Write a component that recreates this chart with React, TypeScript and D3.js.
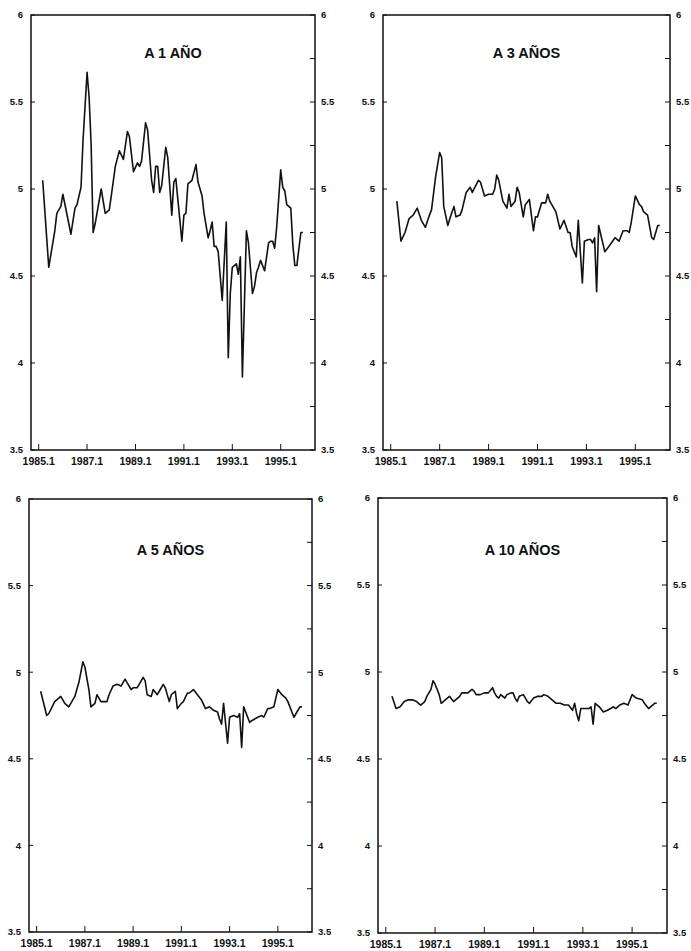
import React from "react"
import * as d3 from "d3"

// months counted from 1985.1 (0 = January 1985)
const xTickMonths = [0, 24, 48, 72, 96, 120]
const xTickLabels = ["1985.1", "1987.1", "1989.1", "1991.1", "1993.1", "1995.1"]
const yTicks = [3.5, 4, 4.5, 5, 5.5, 6]
const yTickLabels = ["3.5", "4", "4.5", "5", "5.5", "6"]
const yMinorTicks = [3.75, 4.25, 4.75, 5.25, 5.75]

const titles = ["A 1 AÑO", "A 3 AÑOS", "A 5 AÑOS", "A 10 AÑOS"]

const anio1: [number, number][] = [
  [2, 5.05], [5, 4.55], [8, 4.76], [9, 4.86], [11, 4.9], [12, 4.97], [16, 4.74], [18, 4.89],
  [19, 4.91], [21, 5.01], [22, 5.28], [24, 5.67], [25, 5.53], [26, 5.26], [27, 4.75], [28, 4.8],
  [31, 5.0], [33, 4.86], [34, 4.87], [35, 4.88], [36, 4.96], [38, 5.13], [40, 5.22], [42, 5.17],
  [44, 5.33], [45, 5.3], [47, 5.1], [49, 5.15], [50, 5.13], [51, 5.16], [53, 5.38], [54, 5.34],
  [56, 5.05], [57, 4.98], [58, 5.13], [59, 5.13], [60, 4.98], [61, 5.02], [63, 5.24], [64, 5.18],
  [66, 4.85], [67, 5.04], [68, 5.06], [71, 4.7], [72, 4.85], [73, 4.86], [74, 5.03], [76, 5.05],
  [78, 5.14], [79, 5.04], [81, 4.96], [82, 4.86], [84, 4.72], [85, 4.76], [86, 4.81], [87, 4.67],
  [88, 4.67], [89, 4.64], [90, 4.5], [91, 4.36], [93, 4.81], [94, 4.03], [95, 4.4], [96, 4.55],
  [97, 4.56], [98, 4.57], [99, 4.51], [100, 4.61], [101, 3.92], [103, 4.76], [104, 4.69], [106, 4.4],
  [107, 4.44], [108, 4.52], [109, 4.55], [110, 4.59], [112, 4.53], [114, 4.69], [115, 4.7], [116, 4.7],
  [117, 4.66], [118, 4.78], [120, 5.11], [121, 5.01], [122, 4.99], [123, 4.91], [125, 4.89], [126, 4.68],
  [127, 4.56], [128, 4.56], [130, 4.75], [131, 4.75],
]

const anio3: [number, number][] = [
  [3, 4.93], [5, 4.7], [7, 4.75], [9, 4.83], [11, 4.85], [13, 4.89], [15, 4.82], [17, 4.78],
  [19, 4.85], [20, 4.88], [22, 5.07], [24, 5.21], [25, 5.18], [26, 4.9], [28, 4.79], [29, 4.83],
  [31, 4.9], [32, 4.84], [34, 4.85], [35, 4.88], [37, 4.98], [39, 5.01], [40, 4.98], [43, 5.05],
  [44, 5.04], [46, 4.96], [48, 4.97], [50, 4.97], [51, 5.0], [52, 5.08], [53, 5.05], [55, 4.93],
  [57, 4.89], [58, 4.97], [59, 4.9], [61, 4.93], [62, 5.01], [63, 4.98], [65, 4.84], [66, 4.91],
  [68, 4.94], [70, 4.76], [71, 4.84], [72, 4.84], [74, 4.92], [76, 4.92], [77, 4.97], [78, 4.93],
  [81, 4.87], [83, 4.77], [85, 4.82], [87, 4.75], [88, 4.75], [89, 4.67], [91, 4.61], [92, 4.82],
  [94, 4.46], [95, 4.7], [97, 4.71], [98, 4.71], [99, 4.69], [100, 4.72], [101, 4.41], [102, 4.79],
  [103, 4.74], [105, 4.64], [107, 4.67], [110, 4.72], [112, 4.7], [114, 4.76], [116, 4.76], [117, 4.75],
  [118, 4.81], [120, 4.96], [122, 4.91], [123, 4.9], [124, 4.87], [126, 4.85], [128, 4.72], [129, 4.71],
  [131, 4.79], [132, 4.79],
]

const anio5: [number, number][] = [
  [2, 4.89], [5, 4.75], [6, 4.76], [9, 4.83], [10, 4.84], [12, 4.86], [14, 4.82], [16, 4.8],
  [18, 4.84], [19, 4.86], [21, 4.94], [23, 5.06], [24, 5.03], [26, 4.9], [27, 4.8], [29, 4.82],
  [30, 4.87], [32, 4.83], [35, 4.83], [36, 4.87], [38, 4.92], [40, 4.93], [42, 4.92], [44, 4.96],
  [45, 4.94], [47, 4.9], [48, 4.91], [50, 4.91], [51, 4.93], [53, 4.97], [54, 4.95], [55, 4.87],
  [57, 4.86], [58, 4.9], [60, 4.87], [61, 4.89], [63, 4.93], [64, 4.91], [66, 4.83], [67, 4.87],
  [69, 4.89], [70, 4.79], [72, 4.82], [73, 4.83], [75, 4.88], [76, 4.88], [78, 4.9], [80, 4.87],
  [82, 4.84], [84, 4.79], [86, 4.8], [88, 4.78], [90, 4.77], [91, 4.73], [92, 4.7], [93, 4.82],
  [95, 4.59], [96, 4.74], [98, 4.75], [100, 4.74], [101, 4.76], [102, 4.565], [103, 4.8], [104, 4.77],
  [106, 4.71], [107, 4.72], [110, 4.74], [112, 4.75], [113, 4.74], [115, 4.79], [116, 4.79], [118, 4.8],
  [120, 4.9], [122, 4.87], [124, 4.85], [125, 4.83], [128, 4.74], [129, 4.76], [131, 4.8], [132, 4.8],
]

const anio10: [number, number][] = [
  [3, 4.86], [5, 4.79], [7, 4.8], [9, 4.83], [11, 4.84], [13, 4.84], [15, 4.83], [17, 4.81],
  [19, 4.83], [20, 4.86], [22, 4.9], [23, 4.95], [24, 4.93], [26, 4.87], [27, 4.82], [29, 4.84],
  [31, 4.86], [33, 4.83], [34, 4.84], [36, 4.86], [37, 4.88], [39, 4.88], [40, 4.88], [42, 4.9],
  [43, 4.89], [44, 4.87], [46, 4.87], [48, 4.88], [50, 4.88], [52, 4.91], [53, 4.88], [54, 4.86],
  [55, 4.85], [56, 4.87], [58, 4.85], [59, 4.87], [61, 4.88], [62, 4.88], [63, 4.85], [64, 4.83],
  [65, 4.86], [67, 4.87], [69, 4.83], [70, 4.82], [72, 4.85], [74, 4.86], [76, 4.86], [77, 4.87],
  [79, 4.86], [81, 4.84], [83, 4.82], [85, 4.82], [87, 4.81], [89, 4.81], [91, 4.78], [92, 4.82],
  [93, 4.76], [94, 4.72], [95, 4.79], [97, 4.79], [99, 4.79], [100, 4.8], [101, 4.7], [102, 4.82],
  [104, 4.8], [106, 4.77], [108, 4.78], [111, 4.8], [112, 4.79], [114, 4.81], [116, 4.82], [118, 4.81],
  [120, 4.87], [122, 4.85], [125, 4.84], [126, 4.82], [128, 4.79], [129, 4.8], [131, 4.82], [132, 4.82],
]

const series = [anio1, anio3, anio5, anio10]

// frame of each panel in page pixels
const panels = [
  { left: 31, top: 15, width: 284, height: 435, titleY: 43 },
  { left: 383, top: 15, width: 287, height: 435, titleY: 43 },
  { left: 29, top: 499, width: 283, height: 433, titleY: 56 },
  { left: 378, top: 498, width: 289, height: 435, titleY: 57 },
]

const FONT = "'Liberation Sans', Arial, sans-serif"

function Panel({ idx }: { idx: number }) {
  const p = panels[idx]
  const data = series[idx]
  const x = d3.scaleLinear().domain([-3.8, 137]).range([0, p.width])
  const y = d3.scaleLinear().domain([3.5, 6]).range([p.height, 0])
  const line = d3.line<[number, number]>()
    .x(d => x(d[0]))
    .y(d => y(d[1]))

  return (
    <g transform={`translate(${p.left},${p.top})`}>
      <rect x={0} y={0} width={p.width} height={p.height}
        fill="none" stroke="#111" strokeWidth={1.5} />

      {/* left axis: major ticks + labels */}
      {yTicks.map((t, i) => (
        <g key={"yl" + i}>
          <line x1={0} x2={4} y1={y(t)} y2={y(t)} stroke="#111" strokeWidth={1} />
          <text x={-8} y={y(t)} dy="0.35em" textAnchor="end"
            fontFamily={FONT} fontWeight="bold" fontSize={9.5} fill="#111">
            {yTickLabels[i]}
          </text>
        </g>
      ))}

      {/* right axis: major + minor ticks + labels */}
      {yTicks.map((t, i) => (
        <g key={"yr" + i}>
          <line x1={p.width - 5} x2={p.width} y1={y(t)} y2={y(t)} stroke="#111" strokeWidth={1} />
          <text x={p.width + 6} y={y(t)} dy="0.35em" textAnchor="start"
            fontFamily={FONT} fontWeight="bold" fontSize={9.5} fill="#111">
            {yTickLabels[i]}
          </text>
        </g>
      ))}
      {yMinorTicks.map((t, i) => (
        <line key={"ym" + i} x1={p.width - 5} x2={p.width} y1={y(t)} y2={y(t)}
          stroke="#111" strokeWidth={1} />
      ))}

      {/* bottom axis */}
      {xTickMonths.map((m, i) => (
        <g key={"x" + i}>
          <line x1={x(m)} x2={x(m)} y1={p.height} y2={p.height - 6} stroke="#111" strokeWidth={1} />
          <text x={x(m)} y={p.height + 15} textAnchor="middle"
            fontFamily={FONT} fontWeight="bold" fontSize={10.5} fill="#111">
            {xTickLabels[i]}
          </text>
        </g>
      ))}

      <text x={p.width / 2} y={p.titleY} textAnchor="middle"
        fontFamily={FONT} fontWeight="bold" fontSize={14.5} fill="#111">
        {titles[idx]}
      </text>

      <path d={line(data) || ""} fill="none" stroke="#111" strokeWidth={1.6}
        strokeLinejoin="round" />
    </g>
  )
}

export default function App() {
  return (
    <svg width={691} height={951}
      style={{ position: "absolute", left: 0, top: 0, background: "#fff" }}>
      {panels.map((_, i) => <Panel key={i} idx={i} />)}
    </svg>
  )
}
